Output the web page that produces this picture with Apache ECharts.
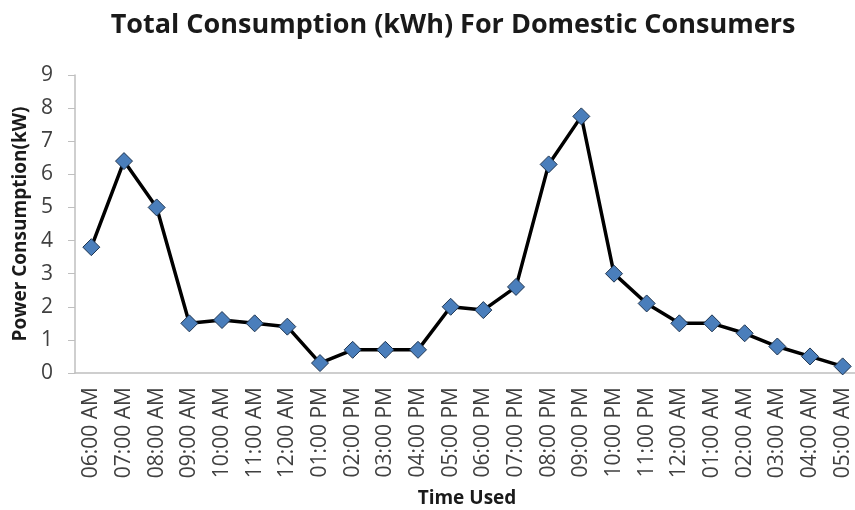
<!DOCTYPE html>
<html>
<head>
<meta charset="utf-8">
<script src="https://cdn.jsdelivr.net/npm/echarts@6/dist/echarts.min.js"></script>
<style>
  html, body { margin: 0; padding: 0; background: #fff; }
  #chart { width: 855px; height: 510px; }
</style>
</head>
<body>
<div id="chart"></div>
<script>
// Hourly time slots, starting at 6 AM
const hours = [
  '06:00 AM', '07:00 AM', '08:00 AM', '09:00 AM', '10:00 AM', '11:00 AM',
  '12:00 AM', '01:00 PM', '02:00 PM', '03:00 PM', '04:00 PM', '05:00 PM',
  '06:00 PM', '07:00 PM', '08:00 PM', '09:00 PM', '10:00 PM', '11:00 PM',
  '12:00 AM', '01:00 AM', '02:00 AM', '03:00 AM', '04:00 AM', '05:00 AM'
];

// Power consumption per hour (kW)
const consumption = [
  3.8, 6.4, 5.0, 1.5, 1.6, 1.5,
  1.4, 0.3, 0.7, 0.7, 0.7, 2.0,
  1.9, 2.6, 6.3, 7.75, 3.0, 2.1,
  1.5, 1.5, 1.2, 0.8, 0.5, 0.2
];

const yTicks = { min: 0, max: 9, step: 1 };

const font = '"Open Sans", Lato, sans-serif';
const chart = echarts.init(document.getElementById('chart'), null, { renderer: 'canvas' });

chart.setOption({
  animation: false,
  backgroundColor: '#ffffff',
  title: {
    text: 'Total Consumption (kWh) For Domestic Consumers',
    left: 448,
    textAlign: 'center',
    top: 7,
    textStyle: { fontFamily: font, fontWeight: 'bold', fontSize: 27, color: '#1a1a1a' }
  },
  grid: {
    left: 75, top: 75, width: 784, height: 298,
    containLabel: false,
    outerBoundsMode: 'none'
  },
  xAxis: {
    type: 'category',
    data: hours,
    boundaryGap: true,
    name: 'Time Used',
    nameLocation: 'middle',
    nameGap: 116,
    nameTextStyle: { fontFamily: font, fontWeight: 'bold', fontSize: 19, color: '#1a1a1a' },
    axisLine: { lineStyle: { color: '#bfbfbf', width: 1.5 } },
    axisTick: { alignWithLabel: true, length: 6, lineStyle: { color: '#bfbfbf' } },
    axisLabel: {
      rotate: 90,
      interval: 0,
      margin: 14,
      fontFamily: font,
      fontSize: 21,
      color: '#404040'
    },
    splitLine: { show: false }
  },
  yAxis: {
    type: 'value',
    min: yTicks.min,
    max: yTicks.max,
    interval: yTicks.step,
    name: 'Power Consumption(kW)',
    nameLocation: 'middle',
    nameGap: 43,
    nameRotate: 90,
    nameTextStyle: { fontFamily: font, fontWeight: 'bold', fontSize: 19, color: '#1a1a1a' },
    axisLine: { show: true, lineStyle: { color: '#bfbfbf', width: 1.5 } },
    axisTick: { show: true, length: 7, lineStyle: { color: '#bfbfbf' } },
    axisLabel: { fontFamily: font, fontSize: 21, color: '#404040', margin: 22 },
    splitLine: { show: false }
  },
  series: [{
    type: 'line',
    data: consumption,
    symbol: 'diamond',
    symbolSize: 17,
    lineStyle: { color: '#000000', width: 3.5 },
    itemStyle: { color: '#4a7ebb', borderColor: '#1f3550', borderWidth: 1 },
    z: 3
  }]
});
</script>
</body>
</html>
